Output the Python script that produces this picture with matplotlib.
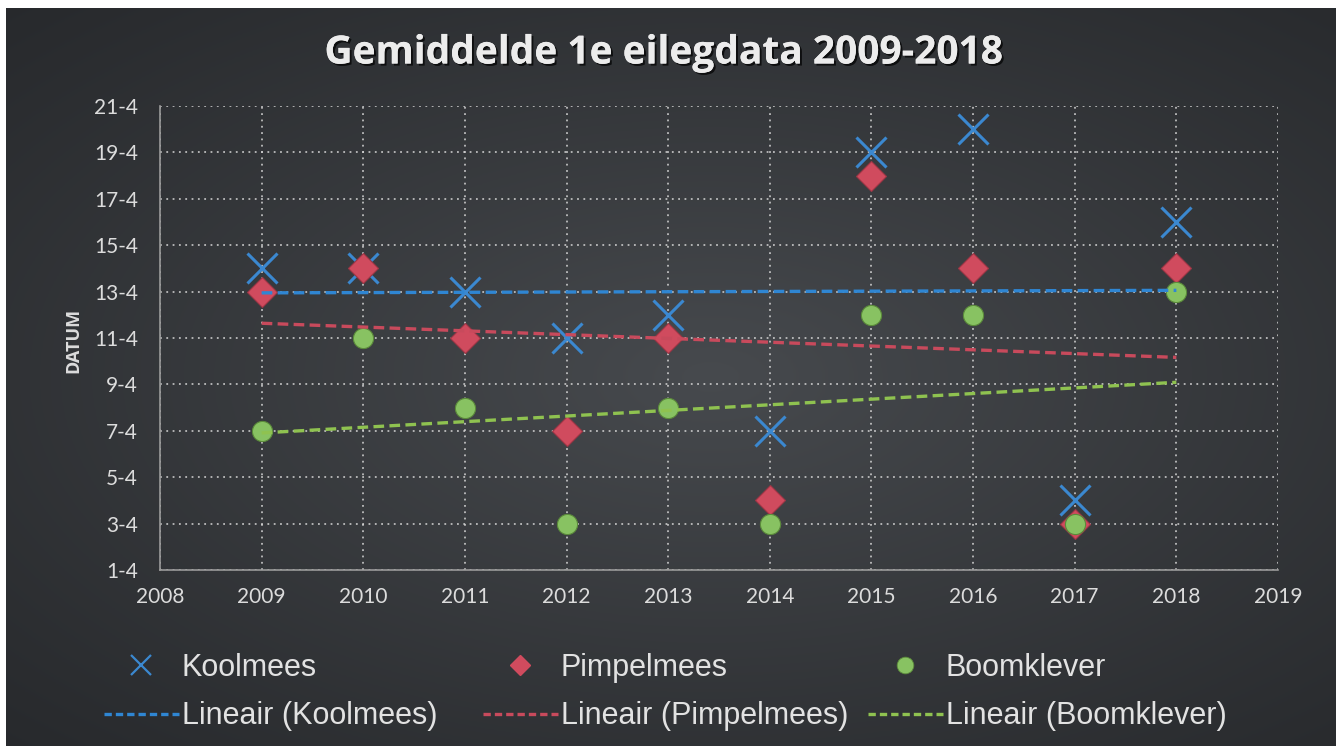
import numpy as np
import matplotlib.pyplot as plt
import matplotlib.patheffects as pe
from matplotlib.lines import Line2D

# gemiddelde eerste eilegdatum (dag in april)
years = [2009, 2010, 2011, 2012, 2013, 2014, 2015, 2016, 2017, 2018]
koolmees = [14, 14, 13, 11, 12, 7, 19, 20, 4, 16]
pimpelmees = [13, 14, 11, 7, 11, 4, 18, 14, 3, 14]
boomklever = [7, 11, 8, 3, 8, 3, 12, 12, 3, 13]

names = ["Koolmees", "Pimpelmees", "Boomklever"]
x_ticks = list(range(2008, 2020))
y_ticks = [1, 3, 5, 7, 9, 11, 13, 15, 17, 19, 21]
y_labels = [f"{d}-4" for d in y_ticks]

W, H = 1342, 753
txt = '#dcdcdc'
fig = plt.figure(figsize=(W / 100, H / 100), dpi=100, facecolor='white')

# dark panel with lighter centre
bg = fig.add_axes([6 / W, 1 - 746 / H, 1330 / W, 738 / H])
yy, xx = np.mgrid[0:1:300j, 0:1:500j]
r = np.sqrt(((xx - 0.53) / 0.8) ** 2 + ((yy - 0.5) / 0.75) ** 2)
t = np.clip(1 - r, 0, 1) ** 1.1
edge = np.array([0x26, 0x28, 0x2b]) / 255
centre = np.array([0x47, 0x4a, 0x4e]) / 255
img = edge + (centre - edge) * t[..., None]
bg.imshow(img, aspect='auto', extent=[0, 1, 0, 1])
bg.axis('off')

ax = fig.add_axes([160 / W, 1 - 570 / H, 1118 / W, 464 / H])
ax.set_facecolor('none')

styles = [
    dict(marker='x', ms=21, mew=2.2, color='#3b88d0'),
    dict(marker='D', ms=15, color='#d04b5e', mec='#9c3645', mew=0.8),
    dict(marker='o', ms=14.5, color='#88c262', mec='#5b8a3b', mew=0.8),
]
trend_cols = ['#2f86d3', '#c84a5c', '#8fc250']
series = [koolmees, pimpelmees, boomklever]

for vals, st in zip(series, styles):
    ax.plot(years, vals, linestyle='none', zorder=3, **st)

for vals, c in zip(series, trend_cols):
    k, b = np.polyfit(years, vals, 1)
    xs = np.array([years[0], years[-1]])
    ax.plot(xs, k * xs + b, color=c, lw=2.4, dashes=(3.2, 1.6), zorder=4)

ax.set_xlim(2008, 2019)
ax.set_ylim(1, 21)
ax.set_xticks(x_ticks)
ax.set_yticks(y_ticks)
ax.set_yticklabels(y_labels)
for lab in ax.get_xticklabels() + ax.get_yticklabels():
    lab.set_family('Lato')
ax.tick_params(axis='both', length=0, labelsize=15, colors=txt)
ax.tick_params(axis='x', pad=12)
ax.tick_params(axis='y', pad=16)
ax.grid(True, color='#d4d4d4', linestyle=(0, (1, 2.5)), lw=1.3, alpha=0.85)
ax.set_axisbelow(True)
for s in ['top', 'right']:
    ax.spines[s].set_visible(False)
for s in ['left', 'bottom']:
    ax.spines[s].set_color('#9a9a9a')
    ax.spines[s].set_linewidth(1.2)

fig.text(73 / W, 1 - 340 / H, 'DATUM', rotation=90, ha='center', va='center',
         fontsize=13, fontweight='bold', family='Open Sans', color=txt)

title = fig.text(663 / W, 1 - 53 / H, 'Gemiddelde 1e eilegdata 2009-2018',
                 ha='center', va='center', fontsize=28, fontweight='bold',
                 family='Open Sans', color='#ececec')
title.set_path_effects([pe.withSimplePatchShadow(offset=(1.5, -1.5), shadow_rgbFace='black', alpha=0.7),
                        pe.Normal()])

# legend, one column per species
leg_x = [104, 483, 868]
leg_ms = [dict(marker='x', ms=14, mew=1.6, color='#3b88d0'),
          dict(marker='D', ms=10, color='#d04b5e'),
          dict(marker='o', ms=12, color='#88c262', mec='#5b8a3b', mew=0.6)]
for i, name in enumerate(names):
    h1 = Line2D([], [], linestyle='none', **leg_ms[i])
    h2 = Line2D([], [], color=trend_cols[i], lw=2.4, dashes=(2.2, 1.2))
    fig.legend([h1, h2], [name, f"Lineair ({name})"], loc='center left',
               bbox_to_anchor=(leg_x[i] / W, 1 - 692 / H), frameon=False,
               borderpad=0, borderaxespad=0, handlelength=2.45, handletextpad=0.1,
               labelspacing=0.62, prop={'family': 'Liberation Sans', 'size': 22},
               labelcolor='#e2e2e2')

fig.savefig('out.png', dpi=100)
